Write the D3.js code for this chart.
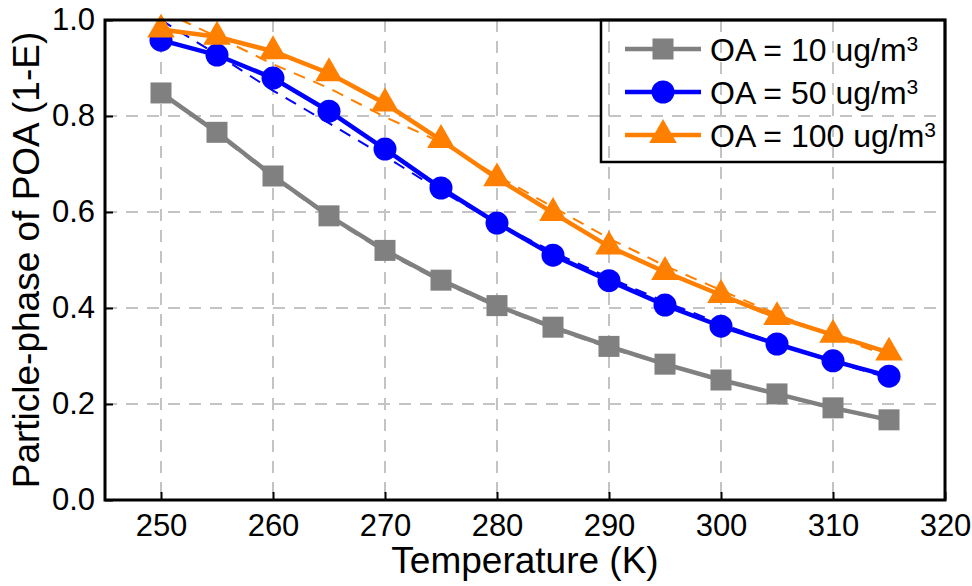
<!DOCTYPE html>
<html>
<head>
<meta charset="utf-8">
<script src="https://cdn.jsdelivr.net/npm/d3@7"></script>
<style>
    body { margin: 0; background: #fff; }
    text { font-family: "Liberation Sans", Arial, sans-serif; fill: #000; }
</style>
</head>
<body>
<div id="chart-1"></div>
<script>

// temperature (K)
var temps = [250, 255, 260, 265, 270, 275, 280, 285, 290, 295, 300, 305, 310, 315];

// measured particle-phase fraction, one array per OA loading
var oa10  = [0.848, 0.766, 0.675, 0.592, 0.520, 0.458, 0.405, 0.360, 0.320, 0.283, 0.250, 0.221, 0.192, 0.167];
var oa50  = [0.958, 0.927, 0.879, 0.810, 0.731, 0.650, 0.577, 0.510, 0.457, 0.406, 0.362, 0.325, 0.290, 0.258];
var oa100 = [0.980, 0.965, 0.935, 0.889, 0.826, 0.750, 0.670, 0.598, 0.528, 0.475, 0.427, 0.381, 0.344, 0.307];

// dashed fitted curves
var fit10  = [0.850, 0.762, 0.672, 0.589, 0.516, 0.455, 0.402, 0.357, 0.317, 0.281, 0.249, 0.219, 0.190, 0.165];
var fit50  = [1.000, 0.928, 0.853, 0.785, 0.716, 0.644, 0.577, 0.517, 0.463, 0.413, 0.367, 0.326, 0.288, 0.254];
var fit100 = [1.020, 0.965, 0.908, 0.858, 0.798, 0.745, 0.676, 0.610, 0.545, 0.488, 0.437, 0.387, 0.341, 0.300];

var xTicks = [250, 260, 270, 280, 290, 300, 310, 320];
var yTicks = [0.0, 0.2, 0.4, 0.6, 0.8, 1.0];

var seriesNames = ["OA = 10 ug/m", "OA = 50 ug/m", "OA = 100 ug/m"];

var series = [
    {name: seriesNames[0], values: oa10,  fit: fit10,  color: "#808080", shape: "square"},
    {name: seriesNames[1], values: oa50,  fit: fit50,  color: "#0000ff", shape: "circle"},
    {name: seriesNames[2], values: oa100, fit: fit100, color: "#ff8000", shape: "triangle"}
];

var W = 972, H = 586;
var margin = {top: 20, right: 27, bottom: 86, left: 105},
    width = W - margin.left - margin.right,
    height = H - margin.top - margin.bottom;

var svg = d3.select("#chart-1")
    .append("svg")
    .attr("width", W)
    .attr("height", H)
    .append("g")
    .attr("transform", "translate(" + margin.left + "," + margin.top + ")");

var x = d3.scaleLinear().domain([245, 320]).range([0, width]);
var y = d3.scaleLinear().domain([0, 1]).range([height, 0]);

svg.append("clipPath")
    .attr("id", "plot-clip")
    .append("rect")
    .attr("width", width)
    .attr("height", height);

// grid
svg.append("g")
    .attr("class", "grid")
    .selectAll("line.gx")
    .data(xTicks.filter(function(d){ return d < 320; }))
    .enter().append("line")
    .attr("x1", function(d){ return x(d); })
    .attr("x2", function(d){ return x(d); })
    .attr("y1", 0)
    .attr("y2", height)
    .style("stroke", "#c4c4c4")
    .style("stroke-width", 2)
    .style("stroke-dasharray", "12,9");

svg.append("g")
    .attr("class", "grid")
    .selectAll("line.gy")
    .data(yTicks.filter(function(d){ return d > 0 && d < 1; }))
    .enter().append("line")
    .attr("x1", 0)
    .attr("x2", width)
    .attr("y1", function(d){ return y(d); })
    .attr("y2", function(d){ return y(d); })
    .style("stroke", "#c4c4c4")
    .style("stroke-width", 2)
    .style("stroke-dasharray", "12,9");

// axes, ticks pointing inward
var xAxis = d3.axisBottom(x)
    .tickValues(xTicks)
    .tickFormat(d3.format("d"))
    .tickSizeInner(-8)
    .tickSizeOuter(0)
    .tickPadding(14);

var yAxis = d3.axisLeft(y)
    .tickValues(yTicks)
    .tickFormat(d3.format(".1f"))
    .tickSizeInner(-8)
    .tickSizeOuter(0)
    .tickPadding(10);

var gx = svg.append("g")
    .attr("class", "x axis")
    .attr("transform", "translate(0," + height + ")")
    .call(xAxis);

var gy = svg.append("g")
    .attr("class", "y axis")
    .call(yAxis);

[gx, gy].forEach(function(g){
    g.select(".domain").remove();
    g.selectAll(".tick line").style("stroke", "#000").style("stroke-width", 2);
    g.selectAll(".tick text")
        .style("font-family", "'Liberation Sans', Arial, sans-serif")
        .style("font-size", "31px")
        .style("fill", "#000");
});
gx.selectAll(".tick text").attr("dy", "0.71em");

var line = d3.line()
    .x(function(d){ return x(d[0]); })
    .y(function(d){ return y(d[1]); });

var plot = svg.append("g").attr("clip-path", "url(#plot-clip)");

// fitted curves (dashed)
series.forEach(function(s){
    plot.append("path")
        .attr("d", line(d3.zip(temps, s.fit)))
        .style("fill", "none")
        .style("stroke", s.color)
        .style("stroke-width", 2)
        .style("stroke-dasharray", "12,9");
});

function drawMarker(g, shape, color) {
    if (shape === "square") {
        g.append("rect").attr("x", -10.5).attr("y", -10.5).attr("width", 21).attr("height", 21).style("fill", color);
    } else if (shape === "circle") {
        g.append("circle").attr("r", 11.5).style("fill", color);
    } else {
        g.append("path").attr("d", d3.symbol(d3.symbolTriangle, 330)()).style("fill", color);
    }
}

// data lines + markers
series.forEach(function(s){
    var pts = d3.zip(temps, s.values);
    svg.append("path")
        .attr("d", line(pts))
        .style("fill", "none")
        .style("stroke", s.color)
        .style("stroke-width", 4.5);

    svg.append("g")
        .selectAll("g")
        .data(pts)
        .enter().append("g")
        .attr("transform", function(d){ return "translate(" + x(d[0]) + "," + y(d[1]) + ")"; })
        .each(function(){ drawMarker(d3.select(this), s.shape, s.color); });
});

// frame
svg.append("rect")
    .attr("width", width)
    .attr("height", height)
    .style("fill", "none")
    .style("stroke", "#000")
    .style("stroke-width", 3);

// legend
var legend = svg.append("g").attr("transform", "translate(" + (width - 344) + ",0)");

legend.append("rect")
    .attr("width", 344)
    .attr("height", 142)
    .style("fill", "none")
    .style("stroke", "#000")
    .style("stroke-width", 2.5);

series.forEach(function(s, i){
    var row = legend.append("g").attr("transform", "translate(0," + (29 + i * 43) + ")");
    row.append("line")
        .attr("x1", 24).attr("x2", 100)
        .style("stroke", s.color)
        .style("stroke-width", 4.5);
    drawMarker(row.append("g").attr("transform", "translate(62,0)"), s.shape, s.color);
    var t = row.append("text")
        .attr("x", 109)
        .attr("dy", "0.36em")
        .style("font-size", "32px");
    t.append("tspan").text(s.name);
    t.append("tspan")
        .attr("dy", "-0.45em")
        .style("font-size", "21px")
        .text("3");
});

// axis titles
svg.append("text")
    .attr("x", width / 2)
    .attr("y", height + 73)
    .attr("text-anchor", "middle")
    .style("font-size", "37px")
    .text("Temperature (K)");

svg.append("text")
    .attr("transform", "translate(" + (-66) + "," + (height / 2) + ") rotate(-90)")
    .attr("text-anchor", "middle")
    .style("font-size", "37px")
    .text("Particle-phase of POA (1-E)");

</script>
</body>
</html>
